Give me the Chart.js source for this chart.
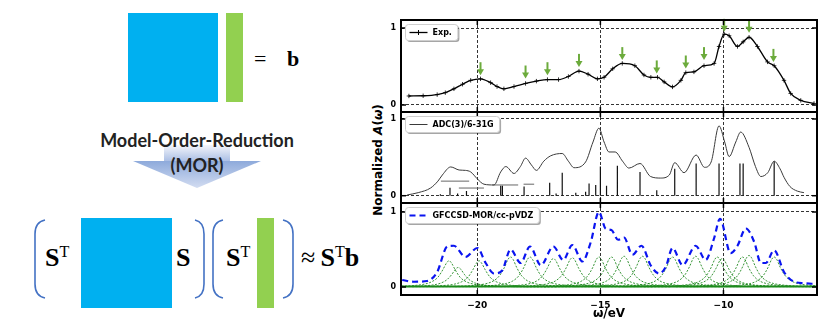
<!DOCTYPE html>
<html><head><meta charset="utf-8">
<script src="https://cdn.jsdelivr.net/npm/chart.js@4.4.1/dist/chart.umd.min.js"></script>
<style>
html,body{margin:0;padding:0;background:#fff;}
body{width:830px;height:321px;position:relative;overflow:hidden;font-family:'DejaVu Sans',sans-serif;}
.abs{position:absolute;}
canvas{position:absolute;}
.sf{font-family:'Liberation Serif',serif;color:#000;white-space:nowrap;}
.sf b{font-weight:bold;}
.sf sup{font-size:62%;font-weight:normal;vertical-align:0.55em;line-height:0;}
.mor{font-family:Lato,'Open Sans',sans-serif;font-weight:bold;color:#222;text-align:center;white-space:nowrap;}
</style></head><body>
<!-- left diagram -->
<svg class="abs" style="left:0;top:0" width="370" height="321">
  <defs>
    <linearGradient id="gb" x1="0" y1="0" x2="0" y2="1">
      <stop offset="0" stop-color="#f4f6fb"/>
      <stop offset="1" stop-color="#a9bde4"/>
    </linearGradient>
    <linearGradient id="gh" x1="0" y1="0" x2="0" y2="1">
      <stop offset="0" stop-color="#8eaadb"/>
      <stop offset="1" stop-color="#d2dcf1"/>
    </linearGradient>
  </defs>
  <rect x="128" y="13" width="90" height="89" fill="#00b0f0"/>
  <rect x="226" y="13" width="17" height="89" fill="#92d050"/>
  <rect x="164" y="145" width="66" height="16.5" fill="url(#gb)"/>
  <polygon points="133,161 261,161 197,188" fill="url(#gh)"/>
  <rect x="81" y="218" width="91" height="90" fill="#00b0f0"/>
  <rect x="257" y="218" width="17" height="90" fill="#92d050"/>
  <g fill="none" stroke="#4472c4" stroke-width="1.6">
    <path d="M45,220 Q35,222 35,234 L35,284 Q35,296 45,298"/>
    <path d="M195,220 Q204,222 204,234 L204,284 Q204,296 195,298"/>
    <path d="M223,220 Q213,222 213,234 L213,284 Q213,296 223,298"/>
    <path d="M283,220 Q293,222 293,234 L293,284 Q293,296 283,298"/>
  </g>
</svg>
<div class="abs sf" style="left:254px;top:45px;font-size:22px;line-height:28px;">=</div>
<div class="abs sf" style="left:287px;top:45px;font-size:22px;line-height:28px;"><b>b</b></div>
<div class="abs mor" style="left:47px;width:300px;top:130px;font-size:18px;line-height:20px;">Model-Order-Reduction</div>
<div class="abs mor" style="left:47px;width:300px;top:155px;font-size:18px;line-height:20px;">(MOR)</div>
<div class="abs sf" style="left:45px;top:244px;font-size:26px;line-height:28px;"><b>S</b><sup>T</sup></div>
<div class="abs sf" style="left:176px;top:244px;font-size:26px;line-height:28px;"><b>S</b></div>
<div class="abs sf" style="left:226px;top:244px;font-size:26px;line-height:28px;"><b>S</b><sup>T</sup></div>
<div class="abs sf" style="left:301px;top:244px;font-size:26px;line-height:28px;">&#8776;&thinsp;<b>S</b><sup>T</sup><b>b</b></div>

<!-- y title -->
<div class="abs" style="left:378px;top:160px;transform:translate(-50%,-50%) rotate(-90deg);font:bold 12px 'DejaVu Sans';white-space:nowrap;color:#000;">Normalized <i>A</i>(<i>ω</i>)</div>

<canvas id="c1" width="450" height="124" style="left:380px;top:0px;width:450px;height:124px"></canvas>
<canvas id="c2" width="450" height="115" style="left:380px;top:100px;width:450px;height:115px"></canvas>
<canvas id="c3" width="450" height="130" style="left:380px;top:191px;width:450px;height:130px"></canvas>

<script>
// ---------- data ----------
const xTicks = [-20, -15, -10];
const yTicks = [0, 1];
const xMin = -23.1, xMax = -6.2;

// Panel 1: experiment
const expX = [-22.78,-22.2,-21.63,-21.3,-20.95,-20.6,-20.27,-19.87,-19.46,-19.2,-18.92,-18.51,-18.04,-17.6,-17.15,-16.7,-16.3,-15.87,-15.5,-15.12,-14.85,-14.5,-14.11,-13.6,-13.23,-12.95,-12.68,-12.41,-12.07,-11.73,-11.53,-11.2,-10.79,-10.38,-10.18,-9.97,-9.77,-9.43,-9.2,-8.96,-8.62,-8.21,-7.94,-7.54,-7.27,-6.86,-6.32];
const expY = [0.117,0.12,0.135,0.16,0.21,0.27,0.32,0.34,0.29,0.24,0.21,0.24,0.28,0.31,0.33,0.33,0.37,0.44,0.40,0.34,0.36,0.47,0.54,0.51,0.39,0.36,0.36,0.30,0.235,0.32,0.42,0.43,0.51,0.54,0.76,0.92,0.90,0.76,0.82,0.88,0.76,0.56,0.51,0.32,0.15,0.06,0.02];
const arrowX = [-19.87,-18.04,-17.15,-15.87,-14.11,-12.71,-11.53,-10.79,-9.97,-8.96,-7.97];
const arrowTip = [0.387,0.344,0.387,0.495,0.583,0.41,0.474,0.583,0.95,0.94,0.56];

// Panel 2: ADC(3)/6-31G
const adcX = [-22.85,-22.4,-21.9,-21.6,-21.42,-21.08,-20.74,-20.48,-20.27,-20.0,-19.73,-19.32,-19.05,-18.84,-18.51,-18.25,-18.04,-17.8,-17.6,-17.3,-17.02,-16.55,-16.3,-16.07,-15.6,-15.3,-15.06,-14.85,-14.65,-14.4,-14.1,-13.84,-13.39,-12.96,-12.55,-12.2,-11.98,-11.6,-11.11,-10.77,-10.5,-10.18,-9.95,-9.77,-9.5,-9.3,-8.96,-8.7,-8.48,-8.2,-7.94,-7.7,-7.54,-7.3,-7.0,-6.73];
const adcY = [0.01,0.04,0.10,0.19,0.27,0.375,0.335,0.33,0.31,0.22,0.15,0.14,0.31,0.38,0.29,0.38,0.49,0.40,0.33,0.45,0.52,0.55,0.45,0.365,0.44,0.70,0.88,0.70,0.57,0.57,0.45,0.36,0.42,0.25,0.23,0.27,0.43,0.30,0.53,0.37,0.44,0.91,0.70,0.51,0.70,0.83,0.63,0.38,0.25,0.30,0.45,0.35,0.24,0.12,0.06,0.04];
const stickX = [-21.5,-21.11,-20.8,-20.44,-19.05,-18.98,-18.1,-17.06,-16.8,-16.55,-16.0,-15.6,-15.46,-15.19,-15.0,-14.75,-14.31,-13.39,-12.71,-11.98,-11.11,-10.18,-9.33,-9.2,-7.94];
const stickH = [0.02,0.105,0.03,0.06,0.13,0.13,0.12,0.17,0.03,0.30,0.04,0.05,0.16,0.14,0.38,0.13,0.39,0.31,0.07,0.35,0.42,0.42,0.42,0.42,0.45];
const segStart = [-21.48,-20.75,-19.39,-18.12];
const segEnd = [-20.33,-19.73,-18.34,-17.69];
const segY = [0.19,0.10,0.14,0.15];

// Panel 3: GFCCSD-MOR/cc-pVDZ
const morX = [-23.05,-22.58,-22.04,-21.63,-21.22,-20.95,-20.48,-20.0,-19.66,-19.32,-18.99,-18.65,-18.24,-17.86,-17.42,-16.91,-16.51,-16.14,-15.73,-15.39,-15.06,-14.79,-14.55,-14.28,-14.04,-13.7,-13.33,-12.96,-12.62,-12.34,-12.07,-11.66,-11.13,-10.72,-10.38,-10.14,-9.71,-9.43,-9.09,-8.75,-8.48,-8.28,-7.94,-7.54,-7.13,-6.72,-6.25];
const morY = [0.093,0.07,0.08,0.20,0.54,0.55,0.40,0.52,0.32,0.18,0.22,0.50,0.32,0.54,0.29,0.54,0.36,0.56,0.34,0.60,1.0,0.78,0.76,0.63,0.66,0.43,0.55,0.29,0.18,0.27,0.52,0.29,0.55,0.36,0.65,0.91,0.45,0.55,0.78,0.60,0.32,0.32,0.49,0.20,0.07,0.05,0.04];
const greenCenters = [-21.15,-20.78,-19.93,-18.65,-17.86,-16.91,-16.14,-15.06,-14.55,-14.04,-13.29,-12.07,-11.13,-10.25,-10.05,-9.23,-8.96,-7.94];
const greenOffsets = [-4,-2.5,-1.5,-1,-0.7,-0.45,-0.25,-0.1,0,0.1,0.25,0.45,0.7,1,1.5,2.5,4];
const greenCurves = [
 [0.004,0.007,0.018,0.038,0.07,0.13,0.23,0.32,0.35,0.32,0.23,0.13,0.07,0.038,0.018,0.007,0.004],
 [0.003,0.005,0.014,0.028,0.052,0.098,0.17,0.24,0.26,0.24,0.17,0.098,0.052,0.028,0.014,0.005,0.003],
 [0.004,0.007,0.018,0.038,0.07,0.13,0.23,0.32,0.35,0.32,0.23,0.13,0.07,0.038,0.018,0.007,0.004],
 [0.004,0.008,0.021,0.044,0.08,0.15,0.26,0.37,0.40,0.37,0.26,0.15,0.08,0.044,0.021,0.008,0.004],
 [0.004,0.008,0.021,0.044,0.08,0.15,0.26,0.37,0.40,0.37,0.26,0.15,0.08,0.044,0.021,0.008,0.004],
 [0.004,0.008,0.02,0.042,0.076,0.143,0.25,0.35,0.38,0.35,0.25,0.143,0.076,0.042,0.02,0.008,0.004],
 [0.004,0.008,0.02,0.043,0.078,0.147,0.255,0.36,0.39,0.36,0.255,0.147,0.078,0.043,0.02,0.008,0.004],
 [0.004,0.008,0.021,0.044,0.08,0.15,0.26,0.37,0.40,0.37,0.26,0.15,0.08,0.044,0.021,0.008,0.004],
 [0.004,0.008,0.021,0.044,0.08,0.15,0.26,0.37,0.40,0.37,0.26,0.15,0.08,0.044,0.021,0.008,0.004],
 [0.004,0.008,0.021,0.045,0.082,0.155,0.27,0.38,0.41,0.38,0.27,0.155,0.082,0.045,0.021,0.008,0.004],
 [0.004,0.008,0.021,0.045,0.082,0.155,0.27,0.38,0.41,0.38,0.27,0.155,0.082,0.045,0.021,0.008,0.004],
 [0.004,0.008,0.021,0.044,0.08,0.15,0.26,0.37,0.40,0.37,0.26,0.15,0.08,0.044,0.021,0.008,0.004],
 [0.004,0.008,0.021,0.045,0.082,0.155,0.27,0.38,0.41,0.38,0.27,0.155,0.082,0.045,0.021,0.008,0.004],
 [0.004,0.008,0.021,0.044,0.08,0.15,0.26,0.37,0.40,0.37,0.26,0.15,0.08,0.044,0.021,0.008,0.004],
 [0.004,0.008,0.02,0.042,0.076,0.143,0.25,0.35,0.38,0.35,0.25,0.143,0.076,0.042,0.02,0.008,0.004],
 [0.004,0.008,0.021,0.044,0.08,0.15,0.26,0.37,0.40,0.37,0.26,0.15,0.08,0.044,0.021,0.008,0.004],
 [0.005,0.008,0.022,0.046,0.084,0.158,0.277,0.39,0.42,0.39,0.277,0.158,0.084,0.046,0.022,0.008,0.005],
 [0.004,0.008,0.021,0.044,0.08,0.15,0.26,0.37,0.40,0.37,0.26,0.15,0.08,0.044,0.021,0.008,0.004]
];
const baseY = [0.006, 0.006];

// ---------- helpers ----------
const zip = (xs, ys) => xs.map((v, i) => ({x: v, y: ys[i]}));
function seg(ctx, x1, y1, x2, y2) { ctx.beginPath(); ctx.moveTo(x1, y1); ctx.lineTo(x2, y2); ctx.stroke(); }

const framePlugin = {
  id: 'frame',
  afterDraw(chart) {
    const {ctx, chartArea: a, scales: {x, y}} = chart;
    ctx.save();
    ctx.strokeStyle = '#000'; ctx.lineWidth = 1.5; ctx.setLineDash([]);
    xTicks.forEach(v => { const px = x.getPixelForValue(v); seg(ctx, px, a.top, px, a.top + 5); seg(ctx, px, a.bottom, px, a.bottom - 5); });
    yTicks.forEach(v => { const py = y.getPixelForValue(v); seg(ctx, a.left, py, a.left + 5, py); seg(ctx, a.right, py, a.right - 5, py); });
    ctx.lineWidth = 2;
    ctx.strokeRect(a.left, a.top, a.right - a.left, a.bottom - a.top);
    ctx.restore();
  }
};

const legendPlugin = {
  id: 'boxlegend',
  afterDraw(chart) {
    const {ctx, chartArea: a} = chart;
    const ds = chart.data.datasets[0];
    ctx.save();
    ctx.font = 'bold 8px "DejaVu Sans"';
    const tw = ctx.measureText(ds.label).width;
    const x0 = a.left + 4.5, y0 = a.top + 4.5, w = 27 + tw + 6, h = 16;
    ctx.fillStyle = 'rgba(0,0,0,0.35)';
    ctx.beginPath(); ctx.roundRect(x0 + 1.5, y0 + 1.5, w, h, 3); ctx.fill();
    ctx.fillStyle = '#fff'; ctx.strokeStyle = '#cfcfcf'; ctx.lineWidth = 1;
    ctx.beginPath(); ctx.roundRect(x0, y0, w, h, 3); ctx.fill(); ctx.stroke();
    const my = y0 + h / 2;
    ctx.strokeStyle = ds.borderColor; ctx.lineWidth = ds.borderWidth; ctx.setLineDash(ds.borderDash || []);
    seg(ctx, x0 + 4, my, x0 + 22, my);
    ctx.setLineDash([]);
    if (ds.pointStyle === 'cross') { ctx.lineWidth = 1; seg(ctx, x0 + 13, my - 2.5, x0 + 13, my + 2.5); }
    ctx.fillStyle = '#000'; ctx.textBaseline = 'middle'; ctx.textAlign = 'left';
    ctx.fillText(ds.label, x0 + 27, my + 0.5);
    ctx.restore();
  }
};

const arrowPlugin = {
  id: 'arrows',
  afterDatasetsDraw(chart) {
    if (chart.canvas.id !== 'c1') return;
    const {ctx, scales: {x, y}} = chart;
    ctx.save();
    ctx.strokeStyle = '#6cab3c'; ctx.fillStyle = '#6cab3c'; ctx.lineWidth = 2;
    arrowX.forEach((xv, i) => {
      const px = x.getPixelForValue(xv), py = y.getPixelForValue(arrowTip[i]);
      seg(ctx, px, py - 13, px, py - 5);
      ctx.beginPath(); ctx.moveTo(px - 3.5, py - 6); ctx.lineTo(px + 3.5, py - 6); ctx.lineTo(px, py); ctx.closePath(); ctx.fill();
    });
    ctx.restore();
  }
};

function scales(yMin, yMax, showX, xHeight) {
  return {
    x: {
      type: 'linear', min: xMin, max: xMax,
      afterBuildTicks: s => { s.ticks = xTicks.map(v => ({value: v})); },
      afterFit: s => { s.height = xHeight; },
      grid: {color: '#000', lineWidth: 0.8, drawTicks: false},
      border: {display: false, dash: [3, 2]},
      ticks: {display: showX, padding: 5, color: '#000', font: {family: 'DejaVu Sans', weight: 'bold', size: 9},
              callback: v => String(v).replace('-', '\u2212')},
      title: {display: showX, text: 'ω/eV', color: '#000', font: {family: 'DejaVu Sans', weight: 'bold', size: 12}, padding: {top: 0, bottom: 0}}
    },
    y: {
      type: 'linear', min: yMin, max: yMax,
      afterBuildTicks: s => { s.ticks = yTicks.map(v => ({value: v})); },
      afterFit: s => { s.width = 21; },
      grid: {color: '#000', lineWidth: 0.8, drawTicks: false},
      border: {display: false, dash: [3, 2]},
      ticks: {padding: 5, color: '#000', font: {family: 'DejaVu Sans', weight: 'bold', size: 8}}
    }
  };
}

function base(datasets, sc, pad) {
  return {
    type: 'scatter',
    data: {datasets},
    options: {
      responsive: false, animation: false, events: [],
      layout: {padding: pad},
      plugins: {legend: {display: false}, tooltip: {enabled: false}},
      scales: sc
    },
    plugins: [framePlugin, legendPlugin, arrowPlugin]
  };
}

// Panel 1
new Chart(document.getElementById('c1'), base([
  {label: 'Exp.', data: zip(expX, expY), showLine: true, borderColor: '#000', borderWidth: 1.3,
   cubicInterpolationMode: 'monotone', pointStyle: 'cross', pointRadius: 2.2, pointBorderColor: '#000', pointBorderWidth: 0.8}
], scales(-0.091, 1.104, false, 0), {top: 20, bottom: 12, right: 13, left: 0}));

// Panel 2
const stickData = [];
stickX.forEach((xv, i) => { stickData.push({x: xv, y: 0}, {x: xv, y: stickH[i]}, {x: xv, y: null}); });
const segData = [];
segY.forEach((yv, i) => { segData.push({x: segStart[i], y: yv}, {x: segEnd[i], y: yv}, {x: segEnd[i], y: null}); });
new Chart(document.getElementById('c2'), base([
  {label: 'ADC(3)/6-31G', data: zip(adcX, adcY), showLine: true, borderColor: '#3a3a3a', borderWidth: 1,
   cubicInterpolationMode: 'monotone', pointRadius: 0},
  {label: 'sticks', data: stickData, showLine: true, spanGaps: false, borderColor: '#111', borderWidth: 1.2, pointRadius: 0},
  {label: 'bars', data: segData, showLine: true, spanGaps: false, borderColor: '#666', borderWidth: 1, pointRadius: 0}
], scales(-0.095, 1.091, false, 0), {top: 12, bottom: 12, right: 13, left: 0}));

// Panel 3
const greenSets = greenCenters.map((c, i) => ({
  label: 'comp' + i, data: greenOffsets.map((d, j) => ({x: c + d, y: greenCurves[i][j]})), showLine: true,
  borderColor: 'rgba(20,130,20,0.85)', borderWidth: 1, borderDash: [2, 1.5], cubicInterpolationMode: 'monotone', pointRadius: 0
}));
new Chart(document.getElementById('c3'), base([
  {label: 'GFCCSD-MOR/cc-pVDZ', data: zip(morX, morY), showLine: true, borderColor: '#0a14f0', borderWidth: 2.2,
   borderDash: [6, 4], cubicInterpolationMode: 'monotone', pointRadius: 0, order: -1},
  {label: 'base', data: zip([xMin, xMax], baseY), showLine: true, borderColor: '#1a8a1a', borderWidth: 2, pointRadius: 0}
].concat(greenSets), scales(-0.107, 1.12, true, 26), {top: 12, bottom: 0, right: 13, left: 0}));
</script>
</body></html>
